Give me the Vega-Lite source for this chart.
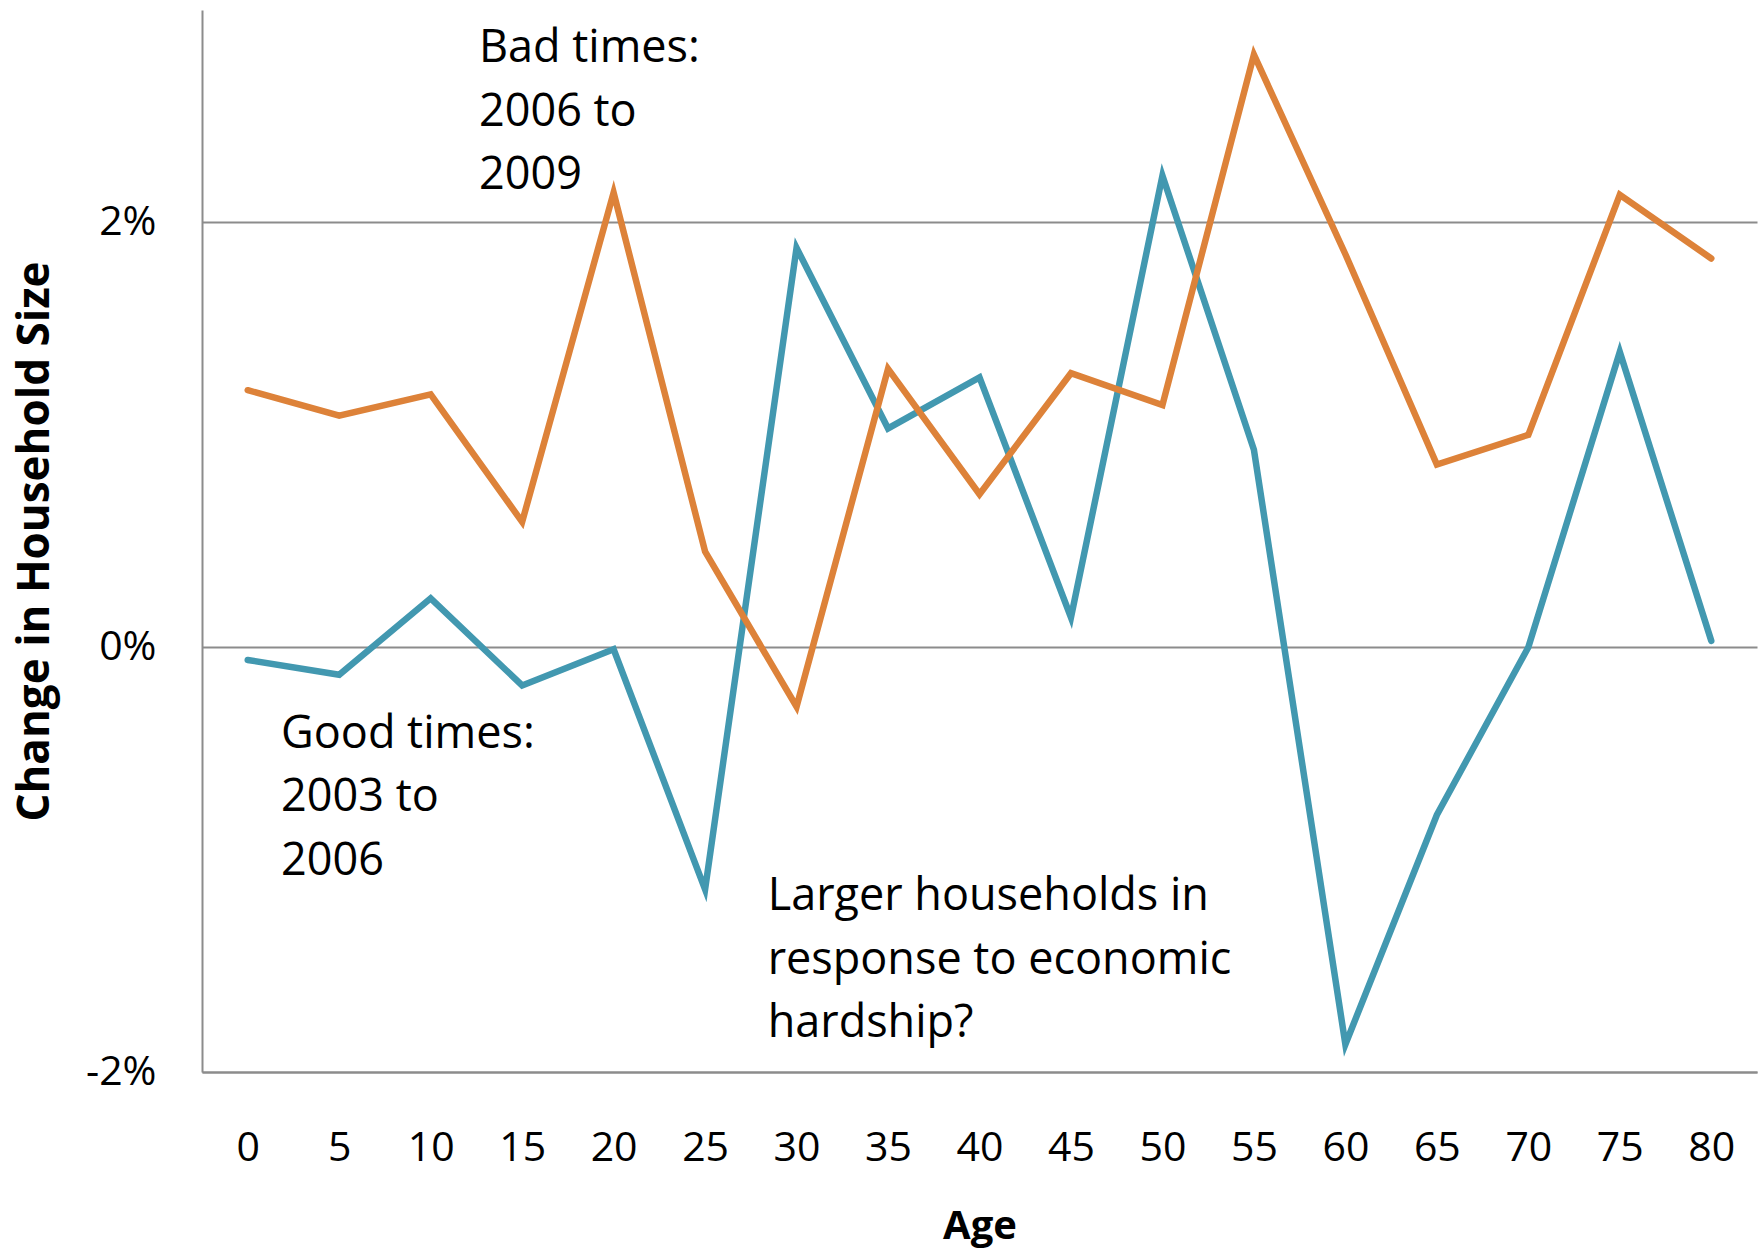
{
  "$schema": "https://vega.github.io/schema/vega-lite/v6.json",
  "width": 1555,
  "height": 1062,
  "autosize": "none",
  "padding": {"left": 202, "top": 10, "right": 1, "bottom": 183},
  "background": "white",
  "config": {"view": {"stroke": null}},
  "datasets": {
    "series": [
      {"age": 0, "period": "Good times: 2003 to 2006", "change": -0.06},
      {"age": 5, "period": "Good times: 2003 to 2006", "change": -0.13},
      {"age": 10, "period": "Good times: 2003 to 2006", "change": 0.23},
      {"age": 15, "period": "Good times: 2003 to 2006", "change": -0.18},
      {"age": 20, "period": "Good times: 2003 to 2006", "change": -0.01},
      {"age": 25, "period": "Good times: 2003 to 2006", "change": -1.14},
      {"age": 30, "period": "Good times: 2003 to 2006", "change": 1.88},
      {"age": 35, "period": "Good times: 2003 to 2006", "change": 1.03},
      {"age": 40, "period": "Good times: 2003 to 2006", "change": 1.27},
      {"age": 45, "period": "Good times: 2003 to 2006", "change": 0.14},
      {"age": 50, "period": "Good times: 2003 to 2006", "change": 2.22},
      {"age": 55, "period": "Good times: 2003 to 2006", "change": 0.93},
      {"age": 60, "period": "Good times: 2003 to 2006", "change": -1.87},
      {"age": 65, "period": "Good times: 2003 to 2006", "change": -0.79},
      {"age": 70, "period": "Good times: 2003 to 2006", "change": 0.0},
      {"age": 75, "period": "Good times: 2003 to 2006", "change": 1.39},
      {"age": 80, "period": "Good times: 2003 to 2006", "change": 0.03},
      {"age": 0, "period": "Bad times: 2006 to 2009", "change": 1.21},
      {"age": 5, "period": "Bad times: 2006 to 2009", "change": 1.09},
      {"age": 10, "period": "Bad times: 2006 to 2009", "change": 1.19},
      {"age": 15, "period": "Bad times: 2006 to 2009", "change": 0.59},
      {"age": 20, "period": "Bad times: 2006 to 2009", "change": 2.14},
      {"age": 25, "period": "Bad times: 2006 to 2009", "change": 0.45},
      {"age": 30, "period": "Bad times: 2006 to 2009", "change": -0.28},
      {"age": 35, "period": "Bad times: 2006 to 2009", "change": 1.31},
      {"age": 40, "period": "Bad times: 2006 to 2009", "change": 0.72},
      {"age": 45, "period": "Bad times: 2006 to 2009", "change": 1.29},
      {"age": 50, "period": "Bad times: 2006 to 2009", "change": 1.14},
      {"age": 55, "period": "Bad times: 2006 to 2009", "change": 2.79},
      {"age": 60, "period": "Bad times: 2006 to 2009", "change": 1.85},
      {"age": 65, "period": "Bad times: 2006 to 2009", "change": 0.86},
      {"age": 70, "period": "Bad times: 2006 to 2009", "change": 1.0},
      {"age": 75, "period": "Bad times: 2006 to 2009", "change": 2.13},
      {"age": 80, "period": "Bad times: 2006 to 2009", "change": 1.83}
    ],
    "notes": [
      {"age": 12.64, "change": 2.754, "label": "Bad times:\n2006 to\n2009"},
      {"age": 1.82, "change": -0.473, "label": "Good times:\n2003 to\n2006"},
      {"age": 28.42, "change": -1.239, "label": "Larger households in\nresponse to economic\nhardship?"}
    ]
  },
  "layer": [
    {
      "data": {"name": "series"},
      "mark": {"type": "line", "strokeWidth": 6.5, "strokeJoin": "miter", "strokeCap": "round"},
      "encoding": {
        "x": {
          "field": "age", "type": "quantitative",
          "scale": {"domain": [-2.5, 82.5], "nice": false, "zero": false},
          "axis": {
            "title": "Age",
            "values": [0, 5, 10, 15, 20, 25, 30, 35, 40, 45, 50, 55, 60, 65, 70, 75, 80],
            "format": "d",
            "grid": false,
            "ticks": false,
            "domainColor": "#8c8c8c",
            "domainWidth": 2,
            "labelFont": "Open Sans",
            "labelFontSize": 41,
            "labelColor": "#000000",
            "labelPadding": 56,
            "labelFlush": false,
            "labelOverlap": false,
            "titleFont": "Open Sans",
            "titleFontWeight": "bold",
            "titleFontSize": 40,
            "titleColor": "#000000",
            "titleBaseline": "alphabetic",
            "titleY": 166
          }
        },
        "y": {
          "field": "change", "type": "quantitative",
          "scale": {"domain": [-2, 3], "nice": false, "zero": false},
          "axis": {
            "title": "Change in Household Size",
            "values": [-2, 0, 2],
            "labelExpr": "datum.value + '%'",
            "grid": true,
            "gridColor": "#8c8c8c",
            "gridWidth": 2,
            "ticks": false,
            "domainColor": "#8c8c8c",
            "domainWidth": 2,
            "labelFont": "Open Sans",
            "labelFontSize": 41,
            "labelColor": "#000000",
            "labelPadding": 46,
            "labelFlush": false,
            "labelOverlap": false,
            "titleFont": "Open Sans",
            "titleFontWeight": "bold",
            "titleFontSize": 44,
            "titleColor": "#000000",
            "titleBaseline": "alphabetic",
            "titleAngle": 270,
            "titleX": -154,
            "titleY": 531
          }
        },
        "color": {
          "field": "period", "type": "nominal",
          "scale": {"domain": ["Good times: 2003 to 2006", "Bad times: 2006 to 2009"], "range": ["#4298b0", "#dd8239"]},
          "legend": null
        },
        "detail": {"field": "period"}
      }
    },
    {
      "data": {"name": "notes"},
      "mark": {"type": "text", "align": "left", "baseline": "alphabetic", "lineBreak": "\n", "lineHeight": 63.5, "font": "Open Sans", "fontSize": 45, "color": "#000000"},
      "encoding": {
        "x": {"field": "age", "type": "quantitative"},
        "y": {"field": "change", "type": "quantitative"},
        "text": {"field": "label"}
      }
    }
  ]
}
